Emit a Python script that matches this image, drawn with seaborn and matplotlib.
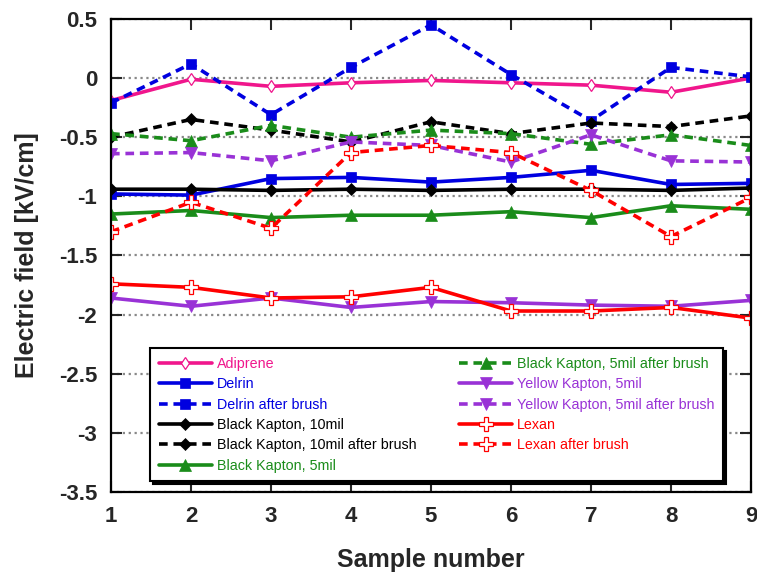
import matplotlib
matplotlib.use("Agg")
import matplotlib.pyplot as plt
import seaborn as sns
import pandas as pd

# values
samples = [1, 2, 3, 4, 5, 6, 7, 8, 9]
adiprene = [-0.19, -0.01, -0.07, -0.04, -0.02, -0.04, -0.06, -0.12, 0.0]
delrin = [-0.98, -0.99, -0.85, -0.84, -0.88, -0.84, -0.78, -0.90, -0.89]
delrin_brush = [-0.21, 0.12, -0.31, 0.09, 0.45, 0.03, -0.36, 0.09, 0.01]
bk10 = [-0.94, -0.94, -0.95, -0.94, -0.95, -0.94, -0.94, -0.95, -0.93]
bk10_brush = [-0.50, -0.35, -0.44, -0.54, -0.37, -0.47, -0.38, -0.41, -0.32]
bk5 = [-1.15, -1.12, -1.18, -1.16, -1.16, -1.13, -1.18, -1.08, -1.11]
bk5_brush = [-0.47, -0.53, -0.40, -0.50, -0.44, -0.47, -0.56, -0.48, -0.57]
yk5 = [-1.86, -1.93, -1.86, -1.94, -1.89, -1.90, -1.92, -1.93, -1.88]
yk5_brush = [-0.64, -0.63, -0.70, -0.54, -0.57, -0.71, -0.48, -0.70, -0.71]
lexan = [-1.74, -1.77, -1.86, -1.85, -1.77, -1.97, -1.97, -1.94, -2.03]
lexan_brush = [-1.30, -1.05, -1.27, -0.63, -0.57, -0.63, -0.95, -1.34, -1.01]

labels = ["Adiprene", "Delrin", "Delrin after brush", "Black Kapton, 10mil",
          "Black Kapton, 10mil after brush", "Black Kapton, 5mil",
          "Black Kapton, 5mil after brush", "Yellow Kapton, 5mil",
          "Yellow Kapton, 5mil after brush", "Lexan", "Lexan after brush"]
values = [adiprene, delrin, delrin_brush, bk10, bk10_brush, bk5, bk5_brush,
          yk5, yk5_brush, lexan, lexan_brush]

PINK, BLUE, BLACK, GREEN, PURPLE, RED = "#f0168c", "#0000e0", "black", "#1a8c1a", "#9932d6", "#ff0000"
colors = [PINK, BLUE, BLUE, BLACK, BLACK, GREEN, GREEN, PURPLE, PURPLE, RED, RED]
markers = ["d", "s", "s", "D", "D", "^", "^", "v", "v", "P", "P"]
dashed = [False, False, True, False, True, False, True, False, True, False, True]

sns.set_style("ticks")
plt.rcParams["font.family"] = ["Liberation Sans", "DejaVu Sans"]

fig, ax = plt.subplots(figsize=(7.57, 5.74), dpi=100)
fig.subplots_adjust(left=0.1466, right=0.992, bottom=0.143, top=0.967)

for lab, vals, col, mk, dsh in zip(labels, values, colors, markers, dashed):
    df = pd.DataFrame({"Sample": samples, "E": vals})
    hollow = mk in ("P", "d")
    ms = {"d": 6, "s": 7.5, "D": 6.5, "^": 8, "v": 8, "P": 9.5}[mk]
    sns.lineplot(data=df, x="Sample", y="E", ax=ax, color=col, label=lab,
                 marker=mk, markersize=ms, lw=2.6,
                 markerfacecolor="white" if hollow else col,
                 markeredgecolor=col, markeredgewidth=0.9 if hollow else 0.5)
    if dsh:
        ax.lines[-1].set_dashes((2.4, 1.6))

ax.set_xlim(1, 9)
ax.set_ylim(-3.5, 0.5)
ax.set_xticks(samples)
ax.set_yticks([0.5, 0, -0.5, -1, -1.5, -2, -2.5, -3, -3.5])
ax.set_yticklabels(["0.5", "0", "-0.5", "-1", "-1.5", "-2", "-2.5", "-3", "-3.5"])
ax.grid(axis="y", linestyle=":", color="#888888", lw=1.6)
ax.set_axisbelow(True)
ax.tick_params(direction="in", length=8, width=1.5, top=True, right=True,
               labelsize=16, pad=10)
for t in ax.get_xticklabels() + ax.get_yticklabels():
    t.set_fontweight("bold")
for s in ax.spines.values():
    s.set_linewidth(1.6)
    s.set_color("black")

ax.set_xlabel("Sample number", fontsize=18, fontweight="bold", labelpad=15)
ax.set_ylabel("Electric field [kV/cm]", fontsize=18, fontweight="bold", labelpad=14)

leg = ax.legend(ncol=2, loc="upper left", bbox_to_anchor=(0.061, 0.304),
                borderaxespad=0, fontsize=10.3, handlelength=3.7, handletextpad=0.35,
                columnspacing=3.0, labelspacing=0.45, frameon=True, fancybox=False,
                shadow={"color": "black", "alpha": 1}, borderpad=0.6)
leg.get_frame().set_edgecolor("black")
leg.get_frame().set_linewidth(1.5)
leg.get_frame().set_alpha(1)
for txt, col in zip(leg.get_texts(), colors):
    txt.set_color(col)

plt.savefig("out.png", dpi=100)
plt.close()
